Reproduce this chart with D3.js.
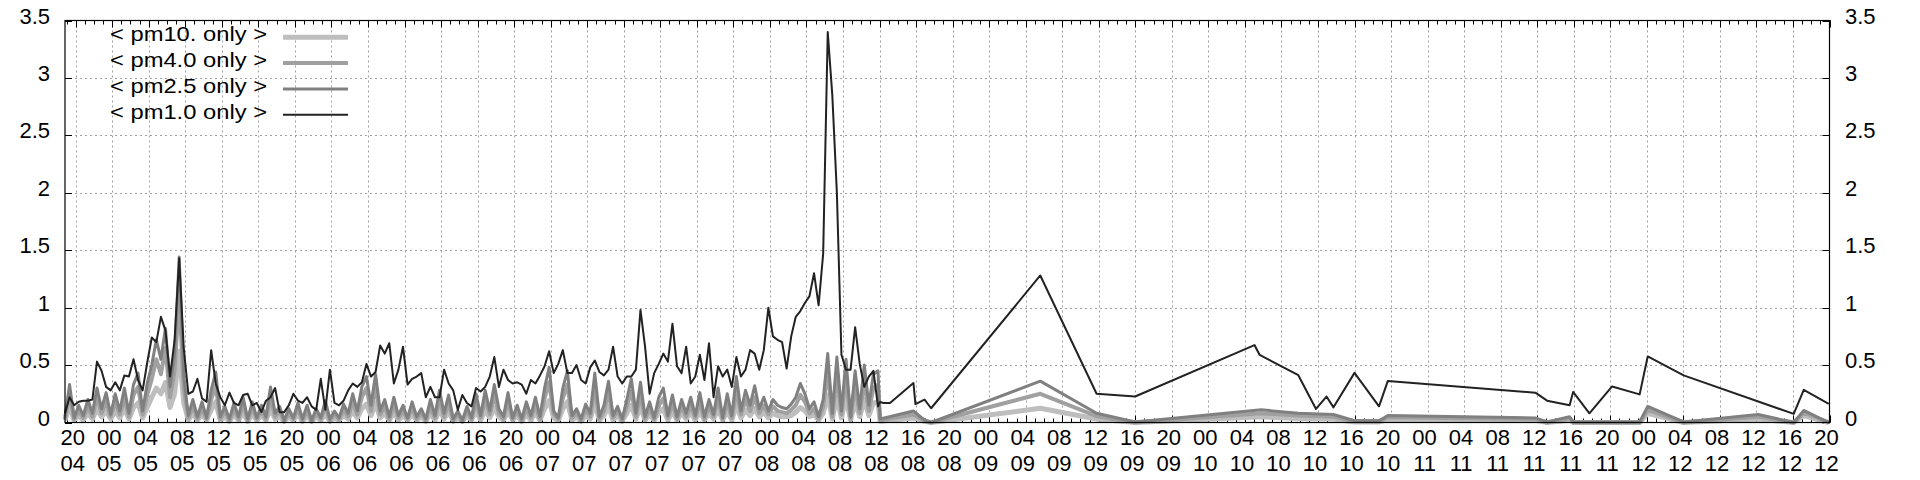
<!DOCTYPE html>
<html><head><meta charset="utf-8">
<script src="https://cdn.jsdelivr.net/npm/d3@7"></script>
<style>
html,body{margin:0;padding:0;background:#fff;}
svg text{font-family:"Liberation Sans",Arial,sans-serif;fill:#000;}
</style></head><body>
<svg id="chart" width="1920" height="480"></svg>
<script>
// ---------------- DATA ----------------
const denseStart = "04 18:50";
const denseStepMinutes = 30;
const pm1Dense = [
0.08,0.22,0.15,0.18,0.19,0.19,0.2,0.53,0.45,0.31,
0.28,0.35,0.28,0.41,0.4,0.55,0.37,0.28,0.52,0.74,
0.7,0.92,0.8,0.4,0.72,1.43,0.65,0.25,0.27,0.38,
0.21,0.18,0.63,0.34,0.22,0.15,0.26,0.17,0.15,0.24,
0.25,0.15,0.17,0.09,0.19,0.22,0.3,0.09,0.09,0.15,
0.25,0.19,0.17,0.22,0.14,0.11,0.38,0.11,0.46,0.17,
0.15,0.19,0.28,0.34,0.31,0.35,0.51,0.4,0.44,0.67,
0.6,0.69,0.34,0.46,0.66,0.33,0.38,0.4,0.43,0.22,
0.31,0.22,0.22,0.46,0.34,0.28,0.11,0.24,0.17,0.14,
0.3,0.27,0.31,0.4,0.57,0.31,0.46,0.37,0.34,0.35,
0.33,0.25,0.37,0.34,0.41,0.49,0.62,0.43,0.51,0.63,
0.43,0.43,0.5,0.37,0.34,0.48,0.54,0.44,0.41,0.46,
0.66,0.4,0.34,0.4,0.4,0.46,0.98,0.66,0.25,0.43,
0.51,0.6,0.53,0.86,0.49,0.43,0.66,0.34,0.4,0.59,
0.37,0.69,0.22,0.49,0.4,0.46,0.31,0.57,0.4,0.46,
0.63,0.6,0.46,0.63,1.0,0.75,0.72,0.7,0.47,0.75,
0.92,0.97,1.04,1.1,1.3,1.02,1.47,3.4,2.85,2.0,
0.59,0.46,0.46,0.83,0.51,0.31,0.4,0.45,0.14];
const pm25Dense = [
0.05,0.33,0.04,0.15,0.06,0.2,0.08,0.3,0.12,0.26,
0.07,0.25,0.1,0.3,0.08,0.33,0.43,0.1,0.34,0.5,
0.72,0.55,0.82,0.31,0.6,1.44,0.4,0.06,0.2,0.05,
0.18,0.04,0.28,0.44,0.05,0.14,0.03,0.17,0.05,0.22,
0.03,0.18,0.04,0.15,0.05,0.31,0.08,0.14,0.02,0.12,
0.04,0.17,0.03,0.15,0.02,0.12,0.04,0.19,0.03,0.1,
0.04,0.16,0.08,0.25,0.1,0.31,0.4,0.15,0.42,0.1,
0.2,0.05,0.22,0.06,0.15,0.04,0.18,0.05,0.12,0.03,
0.2,0.06,0.28,0.08,0.24,0.03,0.1,0.02,0.14,0.04,
0.25,0.06,0.28,0.1,0.33,0.12,0.05,0.26,0.04,0.15,
0.03,0.18,0.06,0.22,0.05,0.3,0.48,0.1,0.04,0.3,
0.45,0.06,0.12,0.03,0.16,0.08,0.43,0.05,0.15,0.36,
0.06,0.14,0.03,0.2,0.38,0.08,0.35,0.05,0.18,0.04,
0.22,0.3,0.06,0.24,0.05,0.2,0.08,0.22,0.06,0.26,
0.05,0.2,0.07,0.3,0.04,0.25,0.06,0.4,0.1,0.28,
0.15,0.32,0.12,0.22,0.1,0.2,0.15,0.13,0.12,0.16,
0.22,0.34,0.25,0.12,0.18,0.05,0.2,0.6,0.08,0.57,
0.1,0.55,0.05,0.45,0.12,0.5,0.15,0.42,0.45];
const pm40Dense = [
0.03,0.25,0.03,0.1,0.04,0.14,0.05,0.22,0.08,0.18,
0.05,0.18,0.07,0.21,0.05,0.24,0.31,0.07,0.24,0.38,
0.55,0.42,0.65,0.22,0.45,1.1,0.3,0.04,0.14,0.03,
0.12,0.03,0.2,0.32,0.03,0.1,0.02,0.12,0.03,0.16,
0.02,0.13,0.03,0.1,0.03,0.22,0.05,0.1,0.01,0.08,
0.03,0.12,0.02,0.1,0.01,0.08,0.03,0.13,0.02,0.07,
0.03,0.11,0.05,0.18,0.07,0.22,0.3,0.1,0.31,0.07,
0.14,0.03,0.16,0.04,0.1,0.03,0.13,0.03,0.08,0.02,
0.14,0.04,0.2,0.05,0.17,0.02,0.07,0.01,0.1,0.03,
0.18,0.04,0.2,0.07,0.24,0.08,0.03,0.19,0.03,0.1,
0.02,0.12,0.04,0.15,0.03,0.21,0.35,0.07,0.03,0.21,
0.33,0.04,0.08,0.02,0.11,0.05,0.31,0.03,0.1,0.26,
0.04,0.1,0.02,0.14,0.27,0.05,0.25,0.03,0.12,0.03,
0.15,0.21,0.04,0.17,0.03,0.14,0.05,0.15,0.04,0.18,
0.03,0.14,0.05,0.21,0.03,0.18,0.04,0.28,0.07,0.2,
0.1,0.22,0.08,0.15,0.07,0.14,0.1,0.09,0.08,0.11,
0.15,0.24,0.18,0.08,0.12,0.03,0.14,0.45,0.05,0.42,
0.07,0.4,0.03,0.32,0.08,0.36,0.1,0.3,0.33];
const pm10Dense = [
0.02,0.14,0.02,0.06,0.02,0.08,0.03,0.12,0.05,0.1,
0.03,0.1,0.04,0.12,0.03,0.13,0.17,0.04,0.13,0.22,
0.3,0.25,0.35,0.13,0.25,0.62,0.17,0.02,0.08,0.02,
0.07,0.02,0.11,0.18,0.02,0.05,0.01,0.07,0.02,0.09,
0.01,0.07,0.02,0.06,0.02,0.12,0.03,0.05,0.01,0.05,
0.02,0.07,0.01,0.06,0.01,0.05,0.02,0.07,0.01,0.04,
0.02,0.06,0.03,0.1,0.04,0.12,0.16,0.06,0.17,0.04,
0.08,0.02,0.09,0.02,0.06,0.02,0.07,0.02,0.05,0.01,
0.08,0.02,0.11,0.03,0.1,0.01,0.04,0.01,0.06,0.02,
0.1,0.02,0.11,0.04,0.13,0.05,0.02,0.1,0.02,0.06,
0.01,0.07,0.02,0.09,0.02,0.12,0.19,0.04,0.02,0.12,
0.18,0.02,0.05,0.01,0.06,0.03,0.17,0.02,0.06,0.14,
0.02,0.06,0.01,0.08,0.15,0.03,0.14,0.02,0.07,0.02,
0.09,0.12,0.02,0.1,0.02,0.08,0.03,0.09,0.02,0.1,
0.02,0.08,0.03,0.12,0.02,0.1,0.02,0.15,0.04,0.11,
0.06,0.12,0.05,0.09,0.04,0.08,0.06,0.05,0.05,0.06,
0.09,0.13,0.1,0.05,0.07,0.02,0.08,0.24,0.03,0.22,
0.04,0.22,0.02,0.18,0.05,0.2,0.06,0.17,0.18];

const pm1SparseTimes = ["08 12:04","08 12:25","08 13:09","08 15:43","08 15:56","08 16:56","08 17:39",
  "09 05:36","09 11:46","09 15:59","10 05:03","10 05:37","10 09:51","10 11:47","10 12:56","10 13:42",
  "10 16:00","10 18:41","10 19:39","11 11:48","11 13:05","11 15:33","11 15:56","11 17:43","11 20:12",
  "11 23:13","12 00:06","12 04:02","12 16:05","12 17:11","12 19:55"];
const pm1Sparse = [0.18,0.17,0.17,0.344,0.16,0.2,0.124,
  1.28,0.25,0.226,0.674,0.588,0.412,0.118,0.226,0.132,
  0.432,0.141,0.362,0.26,0.19,0.15,0.266,0.08,0.314,
  0.245,0.575,0.41,0.075,0.284,0.162];

const graySparseTimes = ["08 12:04","08 15:43","08 16:56","08 17:39","09 05:36","09 11:46","09 15:59",
  "10 05:48","10 09:51","10 13:42","10 16:00","10 18:41","10 19:39","11 11:48","11 13:05","11 15:33",
  "11 15:56","11 23:13","12 00:06","12 04:02","12 12:12","12 16:05","12 17:11","12 19:55"];
const pm25Sparse = [0.03,0.1,0.02,0.0,0.36,0.08,0.005,0.11,0.08,0.07,0.015,0.015,0.06,0.04,0.005,0.05,0.005,0.005,0.14,0.005,0.07,0.0,0.105,0.0];
const pm40Sparse = [0.02,0.07,0.015,0.0,0.25,0.055,0.0,0.08,0.06,0.05,0.01,0.01,0.045,0.03,0.0,0.035,0.0,0.0,0.11,0.0,0.05,0.0,0.085,0.0];
const pm10Sparse = [0.01,0.04,0.01,0.0,0.124,0.03,0.0,0.05,0.035,0.03,0.005,0.005,0.025,0.02,0.0,0.02,0.0,0.0,0.08,0.0,0.03,0.0,0.06,0.0];

const xDomainLabels = ["04 18:50", "12 20:00"];
const yTickValues = [0, 0.5, 1, 1.5, 2, 2.5, 3, 3.5];
const yTickLabels = ["0", "0.5", "1", "1.5", "2", "2.5", "3", "3.5"];
const seriesNames = ["< pm10. only >", "< pm4.0 only >", "< pm2.5 only >", "< pm1.0 only >"];
const seriesColors = ["#bebebe", "#a0a0a0", "#808080", "#222222"];
const seriesWidths = [5, 4, 3, 2];

// ---------------- CHART ----------------
const parse = d3.timeParse("%d %H:%M");
const start = parse(denseStart);
const denseTimes = pm1Dense.map((_, i) => d3.timeMinute.offset(start, denseStepMinutes * i));

function build(denseVals, sparseTimes, sparseVals) {
  const a = denseVals.map((v, i) => ({t: denseTimes[i], v}));
  const b = sparseVals.map((v, i) => ({t: parse(sparseTimes[i]), v}));
  return a.concat(b);
}
const series = [
  build(pm10Dense, graySparseTimes, pm10Sparse),
  build(pm40Dense, graySparseTimes, pm40Sparse),
  build(pm25Dense, graySparseTimes, pm25Sparse),
  build(pm1Dense, pm1SparseTimes, pm1Sparse)
];

const L = 65, R = 1829.5, T = 20.5, B = 422.5;
const x = d3.scaleTime().domain(xDomainLabels.map(parse)).range([L, R]);
const y = d3.scaleLinear().domain([0, 3.5]).range([B, T]);

const svg = d3.select("#chart");
svg.append("rect").attr("width", 1920).attr("height", 480).attr("fill", "#fff");

const majorTicks = x.ticks(d3.timeHour.every(4));
const minorTicks = x.ticks(d3.timeHour.every(1));

// grid
const grid = svg.append("g").attr("stroke", "#a0a0a0").attr("stroke-width", 1).attr("stroke-dasharray", "2,3");
grid.selectAll(".gy").data(yTickValues.filter(v => v > 0 && v < 3.5)).join("line")
  .attr("x1", L).attr("x2", R).attr("y1", d => Math.round(y(d)) + 0.5).attr("y2", d => Math.round(y(d)) + 0.5);
grid.selectAll(".gx").data(majorTicks.filter(d => x(d) > L + 2 && x(d) < R - 2)).join("line")
  .attr("x1", d => Math.round(x(d)) + 0.5).attr("x2", d => Math.round(x(d)) + 0.5).attr("y1", T).attr("y2", B);

// ticks
const tk = svg.append("g").attr("stroke", "#000").attr("stroke-width", 1);
minorTicks.forEach(d => {
  const xx = Math.round(x(d)) + 0.5;
  tk.append("line").attr("x1", xx).attr("x2", xx).attr("y1", B).attr("y2", B - 4);
  tk.append("line").attr("x1", xx).attr("x2", xx).attr("y1", T).attr("y2", T + 4);
});
majorTicks.forEach(d => {
  const xx = Math.round(x(d)) + 0.5;
  tk.append("line").attr("x1", xx).attr("x2", xx).attr("y1", B).attr("y2", B - 7);
  tk.append("line").attr("x1", xx).attr("x2", xx).attr("y1", T).attr("y2", T + 7);
});
yTickValues.forEach(v => {
  const yy = Math.round(y(v)) + 0.5;
  tk.append("line").attr("x1", L).attr("x2", L + 7).attr("y1", yy).attr("y2", yy);
  tk.append("line").attr("x1", R).attr("x2", R - 7).attr("y1", yy).attr("y2", yy);
});

// lines
const line = d3.line().x(d => x(d.t)).y(d => y(d.v));
svg.append("g").selectAll("path").data(series).join("path")
  .attr("d", line)
  .attr("fill", "none")
  .attr("stroke", (d, i) => seriesColors[i])
  .attr("stroke-width", (d, i) => seriesWidths[i])
  .attr("stroke-linejoin", "round");

// frame
svg.append("rect").attr("x", L).attr("y", T).attr("width", R - L).attr("height", B - T)
  .attr("fill", "none").attr("stroke", "#000").attr("stroke-width", 1.2);

// x labels
const fH = d3.timeFormat("%H"), fD = d3.timeFormat("%d");
const xl = svg.append("g").attr("font-size", 22).attr("text-anchor", "middle");
majorTicks.forEach(d => {
  const xx = x(d) - 3;
  xl.append("text").attr("x", xx).attr("y", 445).text(fH(d));
  xl.append("text").attr("x", xx).attr("y", 471).text(fD(d));
});

// y labels
const yl = svg.append("g").attr("font-size", 22);
yTickValues.forEach((v, i) => {
  yl.append("text").attr("x", 50).attr("y", y(v) + 3).attr("text-anchor", "end").text(yTickLabels[i]);
  yl.append("text").attr("x", 1845).attr("y", y(v) + 3).attr("text-anchor", "start").text(yTickLabels[i]);
});

// legend
const lg = svg.append("g");
seriesNames.forEach((name, i) => {
  const ly = 37.3 + 25.8 * i;
  lg.append("text").attr("x", 267).attr("y", ly + 4).attr("text-anchor", "end")
    .attr("font-size", 21).attr("textLength", 157).attr("lengthAdjust", "spacingAndGlyphs").text(name);
  lg.append("line").attr("x1", 283).attr("x2", 348).attr("y1", ly).attr("y2", ly)
    .attr("stroke", seriesColors[i]).attr("stroke-width", seriesWidths[i]);
});
</script>
</body></html>
